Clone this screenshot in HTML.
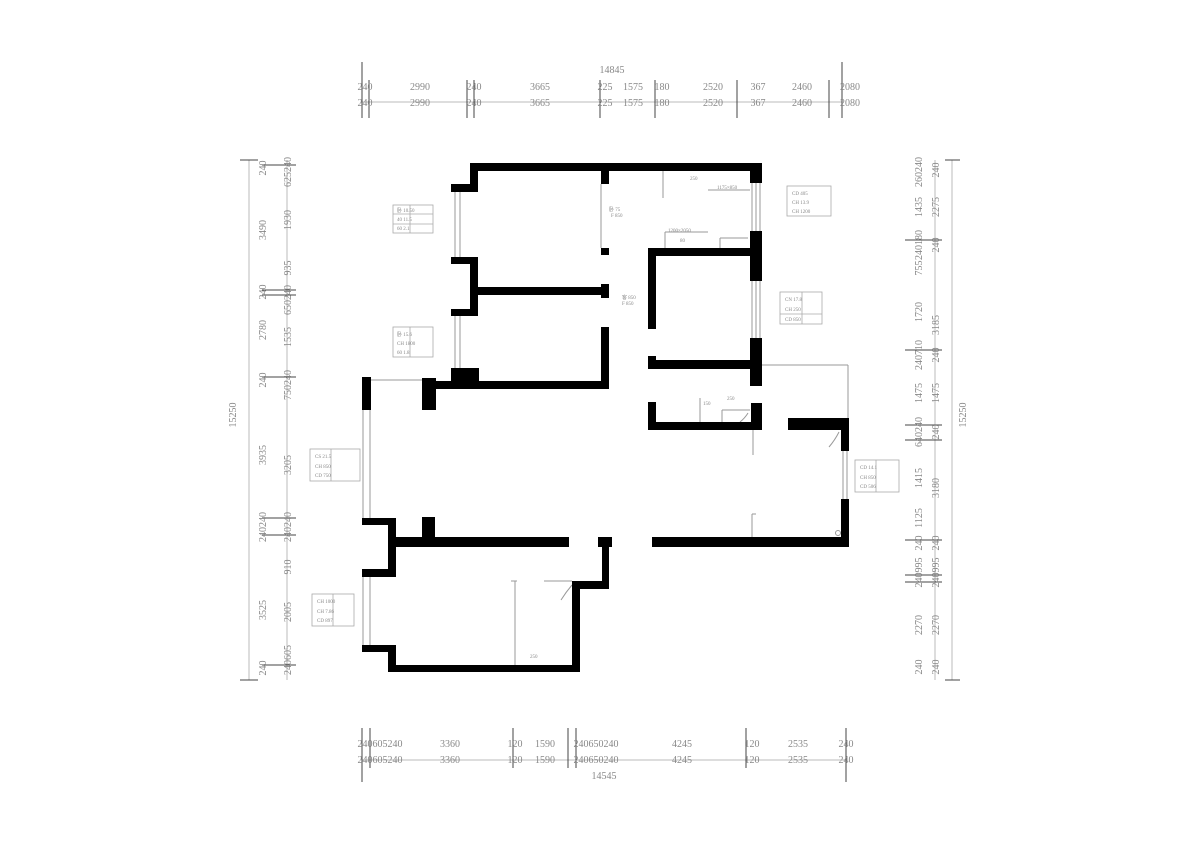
<!DOCTYPE html>
<html><head><meta charset="utf-8"><style>
html,body{margin:0;padding:0;background:#fff;}
svg{display:block;}
text{font-family:"Liberation Serif",serif;fill:#888;}
</style></head><body>
<svg width="1200" height="859" viewBox="0 0 1200 859" xmlns="http://www.w3.org/2000/svg">
<rect width="1200" height="859" fill="#fff"/>

<!-- ===== TOP DIMENSIONS ===== -->
<g stroke="#bbb" stroke-width="1">
<line x1="362" y1="102" x2="842" y2="102"/>
</g>
<g stroke="#444" stroke-width="1">
<line x1="362" y1="62" x2="362" y2="118"/><line x1="369" y1="80" x2="369" y2="118"/>
<line x1="467" y1="80" x2="467" y2="118"/><line x1="474" y1="80" x2="474" y2="118"/>
<line x1="600" y1="80" x2="600" y2="118"/><line x1="655" y1="80" x2="655" y2="118"/>
<line x1="737" y1="80" x2="737" y2="118"/><line x1="829" y1="80" x2="829" y2="118"/>
<line x1="842" y1="62" x2="842" y2="118"/>
</g>
<g font-size="10" text-anchor="middle">
<text x="612" y="73">14845</text>
<text x="365" y="90">240</text><text x="420" y="90">2990</text><text x="474" y="90">240</text><text x="540" y="90">3665</text><text x="605" y="90">225</text><text x="633" y="90">1575</text><text x="662" y="90">180</text><text x="713" y="90">2520</text><text x="758" y="90">367</text><text x="802" y="90">2460</text><text x="850" y="90">2080</text>
<text x="365" y="106">240</text><text x="420" y="106">2990</text><text x="474" y="106">240</text><text x="540" y="106">3665</text><text x="605" y="106">225</text><text x="633" y="106">1575</text><text x="662" y="106">180</text><text x="713" y="106">2520</text><text x="758" y="106">367</text><text x="802" y="106">2460</text><text x="850" y="106">2080</text>
</g>

<!-- ===== BOTTOM DIMENSIONS ===== -->
<line x1="362" y1="760" x2="846" y2="760" stroke="#bbb"/>
<g stroke="#444">
<line x1="362" y1="728" x2="362" y2="782"/><line x1="370" y1="728" x2="370" y2="768"/>
<line x1="513" y1="728" x2="513" y2="768"/><line x1="568" y1="728" x2="568" y2="768"/>
<line x1="576" y1="728" x2="576" y2="768"/><line x1="746" y1="728" x2="746" y2="768"/>
<line x1="846" y1="728" x2="846" y2="782"/>
</g>
<g font-size="10" text-anchor="middle">
<text x="380" y="747">240605240</text><text x="450" y="747">3360</text><text x="515" y="747">120</text><text x="545" y="747">1590</text><text x="596" y="747">240650240</text><text x="682" y="747">4245</text><text x="752" y="747">120</text><text x="798" y="747">2535</text><text x="846" y="747">240</text>
<text x="380" y="763">240605240</text><text x="450" y="763">3360</text><text x="515" y="763">120</text><text x="545" y="763">1590</text><text x="596" y="763">240650240</text><text x="682" y="763">4245</text><text x="752" y="763">120</text><text x="798" y="763">2535</text><text x="846" y="763">240</text>
<text x="604" y="779">14545</text>
</g>

<!-- ===== LEFT DIMENSIONS ===== -->
<line x1="249" y1="160" x2="249" y2="680" stroke="#bbb"/>
<line x1="287" y1="160" x2="287" y2="680" stroke="#bbb"/>
<g stroke="#444">
<line x1="262" y1="165" x2="296" y2="165"/><line x1="262" y1="290" x2="296" y2="290"/><line x1="262" y1="295" x2="296" y2="295"/>
<line x1="262" y1="377" x2="296" y2="377"/><line x1="262" y1="518" x2="296" y2="518"/><line x1="262" y1="535" x2="296" y2="535"/>
<line x1="262" y1="665" x2="296" y2="665"/><line x1="240" y1="160" x2="258" y2="160"/><line x1="240" y1="680" x2="258" y2="680"/>
</g>
<g font-size="10" text-anchor="middle">
<text transform="translate(236,415) rotate(-90)">15250</text>
<text transform="translate(266,230) rotate(-90)">3490</text>
<text transform="translate(266,330) rotate(-90)">2780</text>
<text transform="translate(266,455) rotate(-90)">3935</text>
<text transform="translate(266,610) rotate(-90)">3525</text>
<text transform="translate(266,168) rotate(-90)">240</text>
<text transform="translate(266,292) rotate(-90)">240</text>
<text transform="translate(266,380) rotate(-90)">240</text>
<text transform="translate(266,527) rotate(-90)">240240</text>
<text transform="translate(266,668) rotate(-90)">240</text>
<text transform="translate(291,172) rotate(-90)">625240</text>
<text transform="translate(291,220) rotate(-90)">1930</text>
<text transform="translate(291,268) rotate(-90)">935</text>
<text transform="translate(291,300) rotate(-90)">650240</text>
<text transform="translate(291,337) rotate(-90)">1535</text>
<text transform="translate(291,385) rotate(-90)">750240</text>
<text transform="translate(291,465) rotate(-90)">3205</text>
<text transform="translate(291,527) rotate(-90)">240240</text>
<text transform="translate(291,567) rotate(-90)">910</text>
<text transform="translate(291,612) rotate(-90)">2005</text>
<text transform="translate(291,660) rotate(-90)">240605</text>
</g>

<!-- ===== RIGHT DIMENSIONS ===== -->
<line x1="952" y1="160" x2="952" y2="680" stroke="#bbb"/>
<line x1="935" y1="160" x2="935" y2="680" stroke="#bbb"/>
<g stroke="#444">
<line x1="905" y1="240" x2="942" y2="240"/><line x1="905" y1="350" x2="942" y2="350"/><line x1="905" y1="425" x2="942" y2="425"/>
<line x1="905" y1="440" x2="942" y2="440"/><line x1="905" y1="540" x2="942" y2="540"/><line x1="905" y1="575" x2="942" y2="575"/>
<line x1="905" y1="582" x2="942" y2="582"/><line x1="945" y1="160" x2="960" y2="160"/><line x1="945" y1="680" x2="960" y2="680"/>
</g>
<g font-size="10" text-anchor="middle">
<text transform="translate(922,172) rotate(-90)">260240</text>
<text transform="translate(922,207) rotate(-90)">1435</text>
<text transform="translate(922,245) rotate(-90)">240180</text>
<text transform="translate(922,268) rotate(-90)">755</text>
<text transform="translate(922,312) rotate(-90)">1720</text>
<text transform="translate(922,355) rotate(-90)">240710</text>
<text transform="translate(922,393) rotate(-90)">1475</text>
<text transform="translate(922,432) rotate(-90)">640240</text>
<text transform="translate(922,478) rotate(-90)">1415</text>
<text transform="translate(922,518) rotate(-90)">1125</text>
<text transform="translate(922,543) rotate(-90)">240</text>
<text transform="translate(922,565) rotate(-90)">995</text>
<text transform="translate(922,580) rotate(-90)">240</text>
<text transform="translate(922,625) rotate(-90)">2270</text>
<text transform="translate(922,667) rotate(-90)">240</text>
<text transform="translate(939,170) rotate(-90)">240</text>
<text transform="translate(939,207) rotate(-90)">2275</text>
<text transform="translate(939,245) rotate(-90)">240</text>
<text transform="translate(939,325) rotate(-90)">3185</text>
<text transform="translate(939,355) rotate(-90)">240</text>
<text transform="translate(939,393) rotate(-90)">1475</text>
<text transform="translate(939,432) rotate(-90)">240</text>
<text transform="translate(939,488) rotate(-90)">3180</text>
<text transform="translate(939,543) rotate(-90)">240</text>
<text transform="translate(939,565) rotate(-90)">995</text>
<text transform="translate(939,580) rotate(-90)">240</text>
<text transform="translate(939,625) rotate(-90)">2270</text>
<text transform="translate(939,667) rotate(-90)">240</text>
<text transform="translate(966,415) rotate(-90)">15250</text>
</g>

<!-- ===== THIN LINES (windows / doors) ===== -->
<g stroke="#999" stroke-width="1" fill="none">
<line x1="455" y1="192" x2="455" y2="257"/><line x1="460" y1="192" x2="460" y2="257"/>
<line x1="455" y1="316" x2="455" y2="368"/><line x1="460" y1="316" x2="460" y2="368"/>
<line x1="363" y1="410" x2="363" y2="518"/><line x1="370" y1="410" x2="370" y2="518"/>
<line x1="363" y1="577" x2="363" y2="645"/><line x1="370" y1="577" x2="370" y2="645"/>
<line x1="371" y1="380" x2="422" y2="380"/>
<line x1="752" y1="183" x2="752" y2="231"/><line x1="756" y1="183" x2="756" y2="231"/><line x1="760" y1="183" x2="760" y2="231"/>
<line x1="752" y1="281" x2="752" y2="338"/><line x1="756" y1="281" x2="756" y2="338"/><line x1="760" y1="281" x2="760" y2="338"/>
<line x1="843" y1="451" x2="843" y2="499"/><line x1="847" y1="451" x2="847" y2="499"/>
<line x1="762" y1="365" x2="848" y2="365"/><line x1="848" y1="365" x2="848" y2="418"/>
<line x1="753" y1="430" x2="753" y2="455"/>
<line x1="601" y1="184" x2="601" y2="248"/>
<line x1="663" y1="171" x2="663" y2="198"/>
<line x1="708" y1="190" x2="750" y2="190"/>
<line x1="665" y1="232" x2="708" y2="232"/><line x1="665" y1="232" x2="665" y2="248"/>
<line x1="720" y1="238" x2="748" y2="238"/><line x1="720" y1="238" x2="720" y2="248"/>
<line x1="700" y1="398" x2="700" y2="422"/>
<line x1="722" y1="410" x2="750" y2="410"/><line x1="722" y1="410" x2="722" y2="422"/>
<line x1="752" y1="514" x2="752" y2="537"/><line x1="752" y1="514" x2="756" y2="514"/>
<line x1="515" y1="581" x2="515" y2="665"/><line x1="511" y1="581" x2="517" y2="581"/>
<line x1="544" y1="581" x2="572" y2="581"/>
<path d="M572 585 Q566 592 561 600"/>
<path d="M839 432 Q835 440 829 447"/>
<path d="M748 413 Q745 418 740 422"/>
<circle cx="838" cy="533" r="2.5"/>
</g>

<!-- ===== WALLS ===== -->
<g fill="#000">
<rect x="470" y="163" width="292" height="8"/>
<rect x="470" y="163" width="8" height="29"/>
<rect x="451" y="184" width="27" height="8"/>
<rect x="451" y="257" width="27" height="7"/>
<rect x="470" y="257" width="8" height="59"/>
<rect x="451" y="309" width="27" height="7"/>
<rect x="478" y="287" width="130" height="8"/>
<rect x="601" y="284" width="8" height="14"/>
<rect x="601" y="163" width="8" height="21"/>
<rect x="601" y="248" width="8" height="7"/>
<rect x="750" y="163" width="12" height="20"/>
<rect x="750" y="231" width="12" height="50"/>
<rect x="648" y="248" width="105" height="8"/>
<rect x="648" y="248" width="8" height="81"/>
<rect x="750" y="338" width="12" height="48"/>
<rect x="648" y="360" width="105" height="9"/>
<rect x="648" y="356" width="8" height="13"/>
<rect x="601" y="327" width="8" height="62"/>
<rect x="422" y="381" width="186" height="8"/>
<rect x="422" y="378" width="14" height="32"/>
<rect x="451" y="368" width="28" height="15"/>
<rect x="362" y="377" width="9" height="33"/>
<!-- kitchen -->
<rect x="648" y="402" width="8" height="28"/>
<rect x="648" y="422" width="114" height="8"/>
<rect x="751" y="403" width="11" height="27"/>
<!-- right room -->
<rect x="788" y="418" width="61" height="12"/>
<rect x="841" y="418" width="8" height="33"/>
<rect x="841" y="499" width="8" height="48"/>
<rect x="652" y="537" width="197" height="10"/>
<!-- lower left -->
<rect x="362" y="518" width="33" height="7"/>
<rect x="388" y="518" width="8" height="59"/>
<rect x="362" y="569" width="34" height="8"/>
<rect x="422" y="517" width="13" height="20"/>
<rect x="388" y="537" width="181" height="10"/>
<rect x="598" y="537" width="14" height="10"/>
<rect x="602" y="547" width="7" height="41"/>
<rect x="572" y="581" width="37" height="8"/>
<rect x="572" y="581" width="8" height="91"/>
<rect x="388" y="665" width="192" height="7"/>
<rect x="388" y="645" width="8" height="27"/>
<rect x="362" y="645" width="34" height="7"/>
</g>

<!-- ===== SMALL LABELS ===== -->
<g font-size="5" fill="#666">
<text x="609" y="211">卧 75</text><text x="611" y="217">F 850</text>
<text x="622" y="299">客 850</text><text x="622" y="305">F 850</text>
<text x="690" y="180">250</text><text x="717" y="189">1175×850</text>
<text x="668" y="232">1200×2050</text><text x="680" y="242">80</text>
<text x="703" y="405">150</text><text x="727" y="400">250</text>
<text x="530" y="658">250</text>
</g>

<!-- ===== TABLES ===== -->
<g stroke="#aaa" stroke-width="0.8" fill="none">
<rect x="393" y="205" width="40" height="28"/><line x1="410" y1="205" x2="410" y2="233"/><line x1="393" y1="214" x2="433" y2="214"/><line x1="393" y1="224" x2="433" y2="224"/>
<rect x="393" y="327" width="40" height="30"/><line x1="410" y1="327" x2="410" y2="357"/>
<rect x="310" y="449" width="50" height="32"/><line x1="331" y1="449" x2="331" y2="481"/>
<rect x="312" y="594" width="42" height="32"/><line x1="333" y1="594" x2="333" y2="626"/>
<rect x="787" y="186" width="44" height="30"/>
<rect x="780" y="292" width="42" height="32"/><line x1="802" y1="292" x2="802" y2="324"/><line x1="780" y1="314" x2="822" y2="314"/>
<rect x="855" y="460" width="44" height="32"/><line x1="876" y1="460" x2="876" y2="492"/>
</g>
<g font-size="5" fill="#777">
<text x="397" y="212">卧 10.50</text><text x="397" y="221">40 11.5</text><text x="397" y="230">60 2.1</text>
<text x="397" y="336">卧 15.6</text><text x="397" y="345">CH 1800</text><text x="397" y="354">60 1.8</text>
<text x="315" y="458">CS 21.5</text><text x="315" y="468">CH 850</text><text x="315" y="477">CD 750</text>
<text x="317" y="603">CH 1000</text><text x="317" y="613">CH 7.86</text><text x="317" y="622">CD 897</text>
<text x="792" y="195">CD 405</text><text x="792" y="204">CH 13.9</text><text x="792" y="213">CH 1200</text>
<text x="785" y="301">CN 17.8</text><text x="785" y="311">CH 250</text><text x="785" y="321">CD 850</text>
<text x="860" y="469">CD 14.1</text><text x="860" y="479">CH 850</text><text x="860" y="488">CD 506</text>
</g>
</svg>
</body></html>
